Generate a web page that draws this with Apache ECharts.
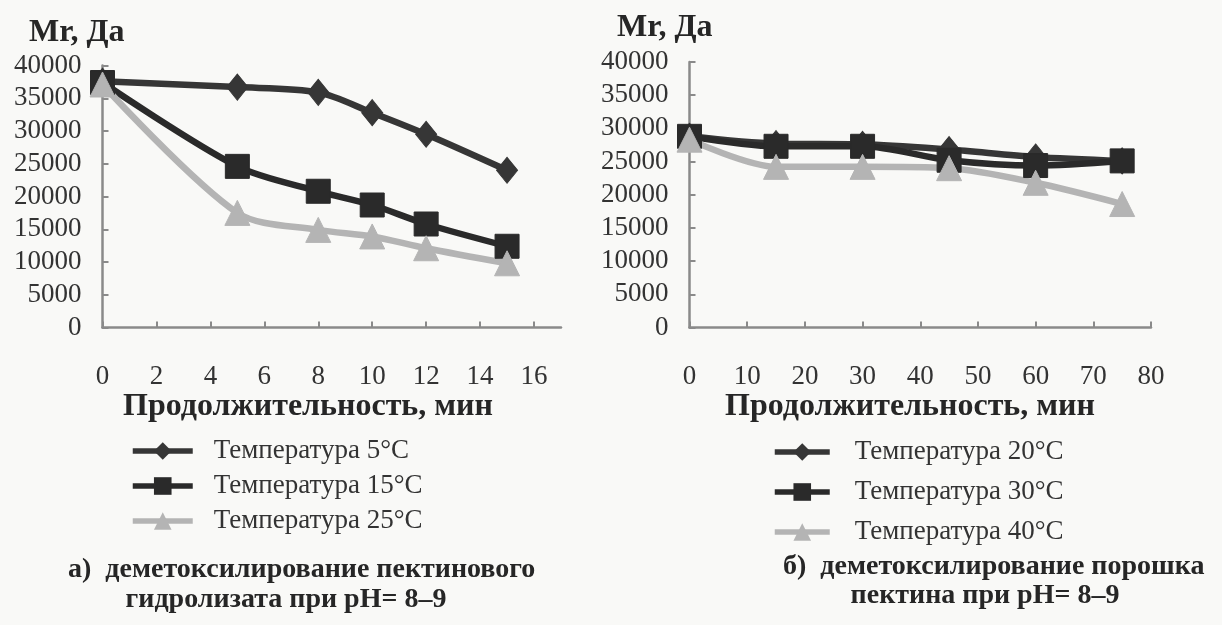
<!DOCTYPE html>
<html>
<head>
<meta charset="utf-8">
<script src="https://cdn.jsdelivr.net/npm/echarts@6/dist/echarts.min.js"></script>
<style>
  html, body { margin: 0; padding: 0; background: #f9f9f7; }
  #chart { width: 1222px; height: 625px; }
</style>
</head>
<body>
<div id="chart"></div>
<script>
// ---- data ----
const timeA = [0, 5, 8, 10, 12, 15];
const temp5 = [37600, 36700, 35900, 32800, 29500, 24000];
const temp15 = [37400, 24600, 20800, 18700, 15800, 12400];
const temp25 = [37100, 17500, 14900, 13900, 12100, 9800];

const timeB = [0, 15, 30, 45, 60, 75];
const temp20 = [28800, 27700, 27600, 26800, 25700, 25100];
const temp30 = [28800, 27300, 27300, 25200, 24400, 25100];
const temp40 = [28300, 24200, 24200, 24000, 21800, 18600];

const xTicksA = [0, 2, 4, 6, 8, 10, 12, 14, 16];
const xTicksB = [0, 10, 20, 30, 40, 50, 60, 70, 80];

const namesA = ['Температура 5°C', 'Температура 15°C', 'Температура 25°C'];
const namesB = ['Температура 20°C', 'Температура 30°C', 'Температура 40°C'];

const yTitle = 'Mr, Да';
const xTitle = 'Продолжительность, мин';
const captionA = ['а)  деметоксилирование пектинового', 'гидролизата при рН= 8–9'];
const captionB = ['б)  деметоксилирование порошка', 'пектина при рН= 8–9'];

// ---- styles ----
const FONT = '"Liberation Serif", "Times New Roman", serif';
const colDiamond = '#363636';
const colSquare = '#2a2a2a';
const colTriangle = '#b4b4b4';
const axisCol = '#8a8a8a';
const textCol = '#333333';

function pairs(xs, ys) { return xs.map((x, i) => [x, ys[i]]); }

function xAxisCfg(gridIndex, max, ticks) {
  return {
    type: 'value', gridIndex, min: 0, max,
    interval: ticks[1] - ticks[0],
    splitLine: { show: false },
    axisLine: { show: true, lineStyle: { color: axisCol, width: 2.5 } },
    axisTick: { show: true, inside: true, length: 6, customValues: ticks, lineStyle: { color: axisCol, width: 2 } },
    axisLabel: { customValues: ticks, margin: 36, color: textCol, fontFamily: FONT, fontSize: 27,
                 formatter: v => String(v) }
  };
}
function yAxisCfg(gridIndex) {
  return {
    type: 'value', gridIndex, min: 0, max: 40000, interval: 5000,
    splitLine: { show: false },
    axisLine: { show: true, lineStyle: { color: axisCol, width: 2.5 } },
    axisTick: { show: true, inside: true, length: 6, lineStyle: { color: axisCol, width: 2 } },
    axisLabel: { margin: 21, color: textCol, fontFamily: FONT, fontSize: 27, formatter: v => String(v) }
  };
}
function lineSeries(name, idx, data, symbol, size, color) {
  return {
    name, type: 'line', xAxisIndex: idx, yAxisIndex: idx, data,
    smooth: 0.3, symbol, symbolSize: size, showSymbol: true,
    lineStyle: { color, width: 6.5 },
    itemStyle: { color, borderColor: color },
    emphasis: { disabled: true },
    animation: false
  };
}
function textEl(text, x, y, size, bold, align) {
  return {
    type: 'text', x, y, silent: true,
    style: {
      text, fill: '#262626',
      font: (bold ? 'bold ' : '') + size + 'px ' + FONT,
      textAlign: align || 'left', textVerticalAlign: 'middle'
    }
  };
}
function legendCfg(names, left, top, w, gap, pad) {
  return {
    data: names, orient: 'vertical', left, top,
    itemWidth: w, itemHeight: 22, itemGap: gap,
    lineStyle: { width: 5.5 },
    textStyle: { fontFamily: FONT, fontSize: 27, color: textCol, lineHeight: 30, padding: [0, 0, 0, pad] },
    selectedMode: false
  };
}

const chart = echarts.init(document.getElementById('chart'), null, { renderer: 'canvas' });
chart.setOption({
  backgroundColor: '#f9f9f7',
  animation: false,
  grid: [
    { left: 102.5, top: 65.5, width: 458.5, height: 262 },
    { left: 689.5, top: 62, width: 461.5, height: 265.5 }
  ],
  xAxis: [xAxisCfg(0, 17, xTicksA), xAxisCfg(1, 80, xTicksB)],
  yAxis: [yAxisCfg(0), yAxisCfg(1)],
  legend: [legendCfg(namesA, 125, 431, 60, 5, 16), legendCfg(namesB, 767, 432, 55, 10, 20)],
  series: [
    lineSeries(namesA[0], 0, pairs(timeA, temp5), 'diamond', [21, 26], colDiamond),
    lineSeries(namesA[1], 0, pairs(timeA, temp15), 'rect', 24, colSquare),
    lineSeries(namesA[2], 0, pairs(timeA, temp25), 'triangle', 25, colTriangle),
    lineSeries(namesB[0], 1, pairs(timeB, temp20), 'diamond', [21, 26], colDiamond),
    lineSeries(namesB[1], 1, pairs(timeB, temp30), 'rect', 24, colSquare),
    lineSeries(namesB[2], 1, pairs(timeB, temp40), 'triangle', 25, colTriangle)
  ],
  graphic: [
    textEl(yTitle, 29, 33, 32, true),
    textEl(yTitle, 617, 28, 32, true),
    textEl(xTitle, 308, 407, 32, true, 'center'),
    textEl(xTitle, 910, 407, 32, true, 'center'),
    textEl(captionA[0], 68, 570, 28, true),
    textEl(captionA[1], 286, 600, 28, true, 'center'),
    textEl(captionB[0], 783, 567, 28, true),
    textEl(captionB[1], 985, 596, 28, true, 'center')
  ]
});
</script>
</body>
</html>
